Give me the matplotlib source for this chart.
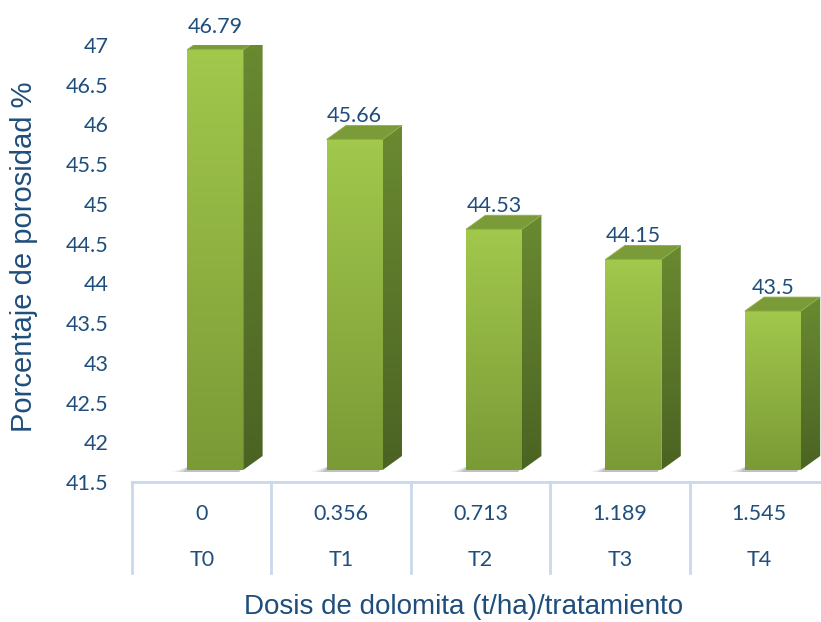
import numpy as np
import matplotlib.pyplot as plt
from matplotlib.patches import Polygon
from matplotlib.colors import LinearSegmentedColormap

# ---- data ----
treatments = ["T0", "T1", "T2", "T3", "T4"]
doses = ["0", "0.356", "0.713", "1.189", "1.545"]
porosity = [46.79, 45.66, 44.53, 44.15, 43.5]

y_min, y_max = 41.5, 47.0
y_ticks = np.arange(41.5, 47.01, 0.5)

text_col = "#1f4e7c"
grid_col = "#c9d8ec"
num_font = "Lato"
title_font = "Liberation Sans"

# ---- figure / axes (pixel based layout, dpi 100) ----
W, H = 821, 622
fig = plt.figure(figsize=(W / 100, H / 100), dpi=100)
ax_l, ax_r, ax_t, ax_b = 132, 829, 45, 482
ax = fig.add_axes([ax_l / W, 1 - ax_b / H, (ax_r - ax_l) / W, (ax_b - ax_t) / H])
ax.set_xlim(-0.5, len(treatments) - 0.5)
ax.set_ylim(y_min, y_max)
ax.set_autoscale_on(False)

px_x = (ax_r - ax_l) / len(treatments)     # pixels per x unit
px_y = (ax_b - ax_t) / (y_max - y_min)     # pixels per y unit

# 3D look: front face lifted, depth going up-right
lift = 12 / px_y
dep_x = 19.4 / px_x
dep_y = 14 / px_y
f_left = -14.5 / px_x
f_w = 56 / px_x

front_cm = LinearSegmentedColormap.from_list("front", ["#7a9a36", "#a2c84c"])
side_cm = LinearSegmentedColormap.from_list("side", ["#4b6323", "#6a8a31"])
grad = np.linspace(0, 1, 256).reshape(-1, 1)

for i, v in enumerate(porosity):
    x0 = i + f_left
    x1 = x0 + f_w
    yb = y_min + lift
    yt = v + lift

    # soft shadow at the base
    for k, a in enumerate([0.05, 0.07, 0.09, 0.12]):
        sx = (16 - k * 4) / px_x
        sh = Polygon([(x0 - sx, yb - 2 / px_y), (x1 - 4 / px_x, yb - 2 / px_y),
                      (x1, yb + 3 / px_y), (x0, yb + 3 / px_y)],
                     closed=True, facecolor="#303030", edgecolor="none", alpha=a, zorder=1)
        ax.add_patch(sh)

    # front face
    fp = Polygon([(x0, yb), (x1, yb), (x1, yt), (x0, yt)], closed=True,
                 facecolor="none", edgecolor="none", transform=ax.transData)
    ax.add_patch(fp)
    im = ax.imshow(grad, cmap=front_cm, origin="lower", aspect="auto",
                   extent=[x0, x1, yb, yt], zorder=2)
    im.set_clip_path(fp)

    # side face
    side = [(x1, yb), (x1 + dep_x, yb + dep_y), (x1 + dep_x, yt + dep_y), (x1, yt)]
    sp = Polygon(side, closed=True, facecolor="none", edgecolor="none", transform=ax.transData)
    ax.add_patch(sp)
    im2 = ax.imshow(grad, cmap=side_cm, origin="lower", aspect="auto",
                    extent=[x1, x1 + dep_x, yb, yt + dep_y], zorder=2)
    im2.set_clip_path(sp)

    # top face
    top = Polygon([(x0, yt), (x1, yt), (x1 + dep_x, yt + dep_y), (x0 + dep_x, yt + dep_y)],
                  closed=True, facecolor="#7b9b39", edgecolor="#8fb048", lw=0.6, zorder=3)
    ax.add_patch(top)

    # value label
    ax.annotate(f"{v:g}", xy=((x0 + x1) / 2, yt + dep_y), xytext=(0, 3),
                textcoords="offset pixels", ha="center", va="baseline",
                fontsize=15.5, color=text_col, family=num_font, annotation_clip=False)

# ---- axes styling ----
for s in ax.spines.values():
    s.set_visible(False)
ax.set_xticks([])
ax.set_yticks(y_ticks)
ax.set_yticklabels([f"{t:g}" for t in y_ticks], fontsize=15.5, color=text_col, family=num_font)
ax.tick_params(axis="y", length=0, pad=17)

# category table under the plot
ax.axhline(y_min, color=grid_col, lw=2, clip_on=False, zorder=0)
for b in np.arange(-0.5, len(treatments) + 0.5, 1):
    ax.plot([b, b], [y_min, y_min - 91 / px_y], color=grid_col, lw=2, clip_on=False)

for i in range(len(treatments)):
    ax.text(i, y_min - 32 / px_y, doses[i], ha="center", va="center", fontsize=15.5,
            color=text_col, family=num_font, clip_on=False)
    ax.text(i, y_min - 78 / px_y, treatments[i], ha="center", va="center", fontsize=15.5,
            color=text_col, family=num_font, clip_on=False)

fig.text(24 / W, 1 - 257 / H, "Porcentaje de porosidad %", rotation=90, ha="center",
         va="center", fontsize=21, color=text_col, family=title_font)
fig.text(464 / W, 1 - 614 / H, "Dosis de dolomita (t/ha)/tratamiento", ha="center",
         va="baseline", fontsize=20, color=text_col, family=title_font)

fig.savefig("out.png", dpi=100)
